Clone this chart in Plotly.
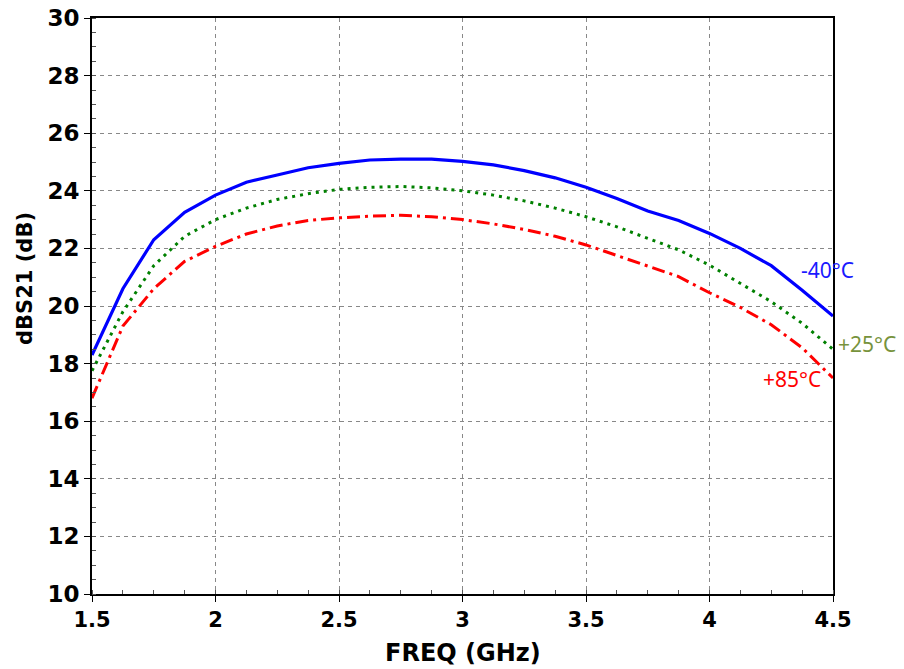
import plotly.graph_objects as go

freq = [1.5, 1.625, 1.75, 1.875, 2.0, 2.125, 2.25, 2.375, 2.5, 2.625, 2.75, 2.875,
        3.0, 3.125, 3.25, 3.375, 3.5, 3.625, 3.75, 3.875, 4.0, 4.125, 4.25, 4.375, 4.5]

s21_m40 = [18.3, 20.6, 22.3, 23.25, 23.85, 24.3, 24.55, 24.8, 24.95, 25.07, 25.1, 25.1,
           25.02, 24.9, 24.7, 24.45, 24.12, 23.73, 23.3, 22.97, 22.52, 22.0, 21.4, 20.55, 19.65]
s21_p25 = [17.75, 19.8, 21.4, 22.42, 23.0, 23.4, 23.7, 23.9, 24.05, 24.12, 24.15, 24.1,
           24.0, 23.85, 23.65, 23.4, 23.1, 22.75, 22.35, 21.95, 21.42, 20.8, 20.15, 19.4, 18.5]
s21_p85 = [16.8, 19.3, 20.6, 21.55, 22.07, 22.5, 22.78, 22.97, 23.06, 23.12, 23.15, 23.1,
           23.0, 22.85, 22.66, 22.42, 22.12, 21.75, 21.4, 21.02, 20.46, 19.95, 19.35, 18.55, 17.5]

labels = ["-40°C", "+25°C", "+85°C"]
x_ticks = [1.5, 2, 2.5, 3, 3.5, 4, 4.5]
x_ticktext = ["1.5", "2", "2.5", "3", "3.5", "4", "4.5"]
x_title = "FREQ (GHz)"
y_title = "dBS21 (dB)"

fig = go.Figure()
fig.add_trace(go.Scatter(x=freq, y=s21_m40, mode="lines", name=labels[0],
                         line=dict(color="#0000FF", width=3.2)))
fig.add_trace(go.Scatter(x=freq, y=s21_p25, mode="lines", name=labels[1],
                         line=dict(color="#008000", width=3, dash="3px,5px")))
fig.add_trace(go.Scatter(x=freq, y=s21_p85, mode="lines", name=labels[2],
                         line=dict(color="#FF0000", width=3, dash="13px,5px,3px,5px")))

ann_font = "Noto Sans"
fig.add_annotation(x=4.5, y=s21_m40[-1], text=labels[0], showarrow=False,
                   xref="x", yref="y", xanchor="right", yanchor="middle",
                   xshift=23, yshift=46, font=dict(family=ann_font, size=21, color="#1A1AFF"))
fig.add_annotation(x=4.5, y=s21_p25[-1], text=labels[1], showarrow=False,
                   xref="x", yref="y", xanchor="left", yanchor="middle",
                   xshift=3, yshift=5, font=dict(family=ann_font, size=21, color="#77933C"))
fig.add_annotation(x=4.5, y=s21_p85[-1], text=labels[2], showarrow=False,
                   xref="x", yref="y", xanchor="right", yanchor="middle",
                   xshift=-10, yshift=-1, font=dict(family=ann_font, size=21, color="#FF0000"))

title_font = dict(family="DejaVu Sans", size=21, color="black", weight="bold")
fig.add_annotation(x=-0.0904, y=0.547, xref="paper", yref="paper", text=y_title,
                   textangle=-90, showarrow=False, xanchor="center", yanchor="middle",
                   font=title_font)
fig.add_annotation(x=0.5, y=-0.102, xref="paper", yref="paper", text=x_title,
                   showarrow=False, xanchor="center", yanchor="middle",
                   font=dict(family="DejaVu Sans", size=24, color="black", weight="bold"))

ytick_font = dict(family="DejaVu Sans", size=23, color="black", weight="bold")
xtick_font = dict(family="DejaVu Sans", size=21, color="black", weight="bold")

fig.update_layout(
    width=896, height=661,
    margin=dict(l=84, r=71, t=10, b=75, autoexpand=False),
    paper_bgcolor="white", plot_bgcolor="white",
    showlegend=False,
    xaxis=dict(
        range=[1.5, 4.5], tickvals=x_ticks, ticktext=x_ticktext, automargin=False,
        tickfont=xtick_font, showline=True, linecolor="black", linewidth=2, mirror=True,
        ticks="outside", ticklen=6, tickcolor="black", tickwidth=1,
        ticklabeloverflow="allow",
        showgrid=True, gridcolor="#888888", griddash="4px,4px", gridwidth=1,
        zeroline=False,
        minor=dict(dtick=0.125, ticks="inside", ticklen=4, tickcolor="#555555", showgrid=False),
    ),
    yaxis=dict(
        range=[10, 30], dtick=2, tick0=10, automargin=False,
        tickfont=ytick_font, showline=True, linecolor="black", linewidth=2, mirror=True,
        ticks="outside", ticklen=6, tickcolor="black", tickwidth=1,
        ticklabeloverflow="allow",
        showgrid=True, gridcolor="#888888", griddash="4px,4px", gridwidth=1,
        zeroline=False,
        minor=dict(dtick=0.5, ticks="inside", ticklen=4, tickcolor="#555555", showgrid=False),
    ),
)

fig.write_html("out.html")
